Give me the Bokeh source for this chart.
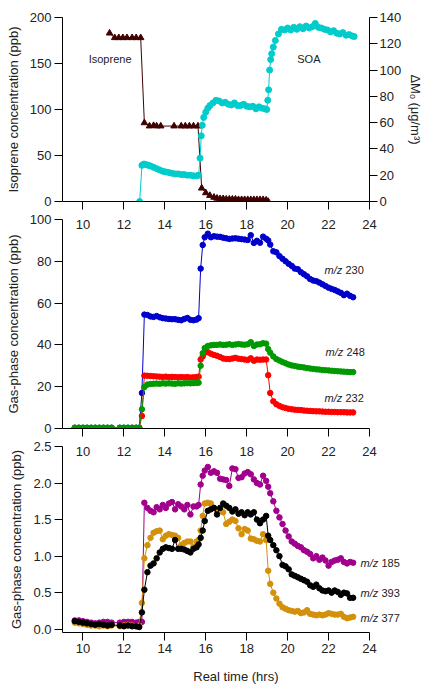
from bokeh.plotting import figure
from bokeh.models import Range1d, LinearAxis, Label, FixedTicker, NumeralTickFormatter
from bokeh.layouts import column
from bokeh.embed import file_html
from bokeh.resources import INLINE

# ---------------- data ----------------
X_TICKS = [10, 12, 14, 16, 18, 20, 22, 24]

# top panel: isoprene (left axis, ppb)
ISO_T = [11.3, 11.55, 11.75, 11.95, 12.15, 12.4, 12.6, 12.82,
         13.0, 13.25, 13.45, 13.6, 13.8,
         14.45, 14.8, 15.0, 15.2, 15.4, 15.62,
         15.8, 16.0, 16.2, 16.4,
         16.55, 16.7, 16.85, 17.0, 17.15, 17.3, 17.45, 17.6, 17.75, 17.9, 18.05, 18.2, 18.35, 18.5, 18.65, 18.8, 18.95,
         19.05]
ISO = [183, 178, 178, 178, 178, 178, 178, 178,
       85.5, 82, 82.5, 82, 82,
       82, 82, 82, 82, 82, 82,
       14.5, 9.4, 6.5, 4.5,
       3.5, 3, 3, 2.5, 2.5, 2.5, 2.5, 2, 2, 2, 2, 2, 2, 2, 2, 2, 1.5,
       0]

# top panel: SOA (right axis, ug/m3)
SOA_T = [12.77, 12.88, 12.98, 13.1, 13.2, 13.3, 13.45, 13.6, 13.75, 13.9, 14.05, 14.2, 14.35, 14.5, 14.65,
         14.8, 14.95, 15.1, 15.25, 15.4, 15.55, 15.65, 15.72, 15.78, 15.83, 15.9, 16.0, 16.1, 16.2, 16.35,
         16.5, 16.65, 16.8, 16.95, 17.1, 17.25, 17.4, 17.55, 17.7, 17.85, 18.0, 18.15, 18.3, 18.45, 18.6,
         18.75, 18.9, 18.98, 19.03, 19.07, 19.12, 19.17, 19.22, 19.3, 19.4, 19.55, 19.7, 19.85, 20.0, 20.15,
         20.3, 20.45, 20.6, 20.75, 20.9, 21.05, 21.2, 21.35, 21.5, 21.65, 21.8, 21.95, 22.1, 22.25, 22.4,
         22.55, 22.7, 22.85, 23.0, 23.15, 23.25]
SOA = [0, 27.5, 28.5, 28, 27.5, 27, 26, 25, 24, 23, 22.5, 22, 21.5, 21, 21,
       20.5, 20.5, 20, 20, 19.5, 19.5, 20, 33, 50, 58, 64, 68, 71, 73, 75,
       77, 76.5, 75, 75.5, 74, 73.5, 75, 73, 73, 74, 72.5, 72, 72.5, 70.5, 72,
       71, 70.5, 70, 77, 85, 100, 108, 112.5, 117.5, 122.5, 127.5, 131, 130.5, 132, 130.5,
       132.5, 131, 133, 131.5, 133.5, 132, 133, 135.5, 132.5, 132, 131, 130.5, 129, 130, 128,
       127.5, 128.5, 126.5, 127, 126, 125.5]

# middle and bottom panels share the sampling times
T = [9.6, 9.8, 10.0, 10.2, 10.4, 10.6, 10.8, 11.0, 11.2, 11.4, 11.8, 12.0, 12.2, 12.4, 12.6, 12.75,
     12.88, 13.0,
     13.15, 13.3, 13.45, 13.6, 13.75, 13.9, 14.05, 14.2, 14.35, 14.5, 14.65, 14.8, 14.95, 15.1, 15.25, 15.4, 15.55, 15.65,
     15.75, 15.85, 15.95, 16.1, 16.25, 16.4, 16.55, 16.7, 16.85, 17.0, 17.15, 17.3, 17.45, 17.6, 17.75, 17.9, 18.05,
     18.2, 18.35, 18.5, 18.65, 18.8, 18.95,
     19.05, 19.15, 19.3, 19.45, 19.6, 19.75, 19.9, 20.05, 20.2, 20.35, 20.5, 20.65, 20.8, 20.95, 21.1, 21.25, 21.4,
     21.55, 21.7, 21.85, 22.0, 22.15, 22.3, 22.45, 22.6, 22.75, 22.9, 23.05, 23.2]

MZ230 = [0.3] * 16 + [17, 54.5,
         54.3, 53.6, 53.4, 53.8, 53.2, 52.8, 52.6, 52.4, 52.3, 52.3, 52.0, 51.8, 52.4, 52.9, 52.0, 51.8, 52.1, 52.8,
         76.5, 87.8, 91.5, 93.2, 91.5, 92.0, 91.8, 91.7, 91.3, 91.0, 90.7, 90.9, 91.0, 90.8, 90.6, 90.4, 90.2,
         92.5, 88.8, 89.8, 88.9, 91.8, 90.8,
         90.0, 88.0, 84.8, 84.3, 82.5, 81.2, 80.0, 78.8, 77.8, 76.5, 76.2, 74.8, 73.8, 72.8, 71.5, 70.8, 70.5,
         69.8, 69.0, 68.2, 67.4, 66.8, 66.3, 65.6, 64.9, 63.8, 64.5, 63.5, 62.8]
MZ232 = [0.2] * 16 + [6, 25.3,
         25.2, 25.1, 25.0, 24.9, 24.8, 24.7, 24.8, 24.6, 24.7, 24.6, 24.5, 24.6, 24.5, 24.6, 24.4, 24.5, 24.6, 24.8,
         33.0, 34.5, 36.3, 36.5, 35.8, 35.2, 34.8, 34.2, 33.5, 33.3, 33.2, 33.5, 33.8, 33.4, 33.2, 33.0, 32.8,
         33.6, 32.4, 33.0, 32.9, 33.0, 33.0,
         25.5, 17.0, 13.0, 11.6, 10.8, 10.2, 9.8, 9.4, 9.2, 9.0, 8.9, 8.8, 8.6, 8.5, 8.4, 8.3, 8.2,
         8.2, 8.1, 8.0, 8.0, 7.9, 7.9, 7.8, 7.8, 7.8, 7.7, 7.7, 7.7]
MZ248 = [0.4] * 16 + [9.2, 19.8,
         21.0, 21.3, 21.4, 21.5, 21.4, 21.6, 21.5, 21.6, 21.5, 21.4, 21.6, 21.5, 21.6, 21.7, 21.6, 21.7, 21.8, 21.9,
         30.0, 36.0, 38.5, 39.5, 39.8, 40.0, 40.0, 40.2, 40.0, 40.1, 40.3, 40.0, 40.2, 40.4, 40.2, 40.1, 40.3,
         41.3, 39.5, 40.2, 40.3, 40.8, 40.6,
         38.0, 36.3, 34.5, 33.2, 32.5, 31.8, 31.2, 30.6, 30.2, 29.9, 29.6, 29.4, 29.2, 28.9, 28.7, 28.5, 28.3,
         28.2, 28.0, 27.9, 27.8, 27.6, 27.5, 27.4, 27.3, 27.2, 27.1, 27.0, 27.0]

MZ185 = [0.12, 0.12, 0.11, 0.1, 0.09, 0.08, 0.09, 0.1, 0.1, 0.09, 0.09, 0.1, 0.1, 0.1, 0.09, 0.1,
         0.1, 1.73,
         1.66, 1.62, 1.6, 1.67, 1.64, 1.7, 1.66, 1.72, 1.74, 1.64, 1.71, 1.68, 1.64, 1.70, 1.57, 1.68, 1.68, 1.70,
         1.98, 2.1, 2.17, 2.22, 2.14, 2.16, 2.14, 2.06, 2.05, 2.04, 1.96, 2.2, 2.19, 2.07, 2.08, 2.13, 2.15,
         2.12, 2.05, 2.0, 1.98, 2.1, 2.03,
         1.95, 1.86, 1.75, 1.62, 1.53, 1.44, 1.35, 1.27, 1.2, 1.17, 1.14, 1.12, 1.08, 1.06, 1.03, 0.97, 1.0,
         0.95, 0.98, 0.94, 0.87, 0.92, 0.94, 0.95, 0.97, 0.92, 0.9, 0.92, 0.91]
MZ393 = [0.11, 0.1, 0.09, 0.08, 0.07, 0.06, 0.07, 0.06, 0.05, 0.06, 0.05, 0.04, 0.05, 0.04, 0.04, 0.03,
         0.23, 0.54,
         0.78, 0.87, 0.9, 0.97, 1.05, 1.1, 1.12, 1.11, 1.1, 1.22, 1.1, 1.1, 1.09, 1.07, 1.05, 1.1, 1.12, 1.16,
         1.25, 1.35, 1.48, 1.62, 1.64, 1.66, 1.57, 1.66, 1.72, 1.69, 1.66, 1.61, 1.64, 1.58, 1.6, 1.56, 1.6,
         1.57, 1.6, 1.5, 1.45, 1.5, 1.55,
         1.28, 1.22, 1.15, 1.08, 1.0, 0.88, 0.86, 0.82, 0.75, 0.73, 0.71, 0.69, 0.67, 0.65, 0.6, 0.58, 0.61,
         0.56, 0.53, 0.52, 0.53, 0.5, 0.53, 0.51, 0.47, 0.5, 0.49, 0.43, 0.43]
MZ377 = [0.09, 0.08, 0.07, 0.06, 0.05, 0.05, 0.04, 0.05, 0.04, 0.05, 0.04, 0.05, 0.06, 0.05, 0.04, 0.05,
         0.36, 0.97,
         1.15, 1.25, 1.32, 1.34, 1.35, 1.23, 1.28, 1.3, 1.29, 1.28, 1.25, 1.15, 1.18, 1.2, 1.2, 1.13, 1.2, 1.22,
         1.35, 1.55, 1.72, 1.73, 1.72, 1.66, 1.62, 1.62, 1.6, 1.44, 1.47, 1.5, 1.48, 1.38, 1.3, 1.37, 1.35,
         1.24, 1.23, 1.21, 1.2, 1.3, 1.22,
         0.8, 0.62, 0.5, 0.42, 0.35, 0.3, 0.28, 0.26, 0.25, 0.24, 0.25, 0.22, 0.23, 0.26, 0.21, 0.2, 0.19,
         0.2, 0.19, 0.2, 0.22, 0.21, 0.2, 0.2, 0.21, 0.17, 0.15, 0.16, 0.17]

# series-label positions on the bottom panel (ppb level of each label)
BOT_LABEL_Y = [0.9, 0.5, 0.16]
BOT_LABEL_NUM = ["185", "393", "377"]

# ---------------- style ----------------
FONT = "Liberation Sans"
TXT = "#222222"
C_ISO = "#400000"
C_SOA = "#00cccc"
C_230 = "#0000cc"
C_232 = "#ff0000"
C_248 = "#009900"
C_185 = "#a0008c"
C_393 = "#000000"
C_377 = "#d4900a"

W = 426
LEFT = 62
RIGHT = 52


def make_fig(h, yr, top, bottom):
    p = figure(width=W, height=h, x_range=Range1d(9, 24), y_range=yr,
               output_backend="svg", toolbar_location=None)
    p.min_border_left = LEFT
    p.min_border_right = RIGHT
    p.min_border_top = top
    p.min_border_bottom = bottom
    p.outline_line_color = None
    p.xgrid.visible = False
    p.ygrid.visible = False
    p.background_fill_color = None
    p.border_fill_color = None
    return p


def style_axis(ax, ticks, standoff=3, label_standoff=6):
    ax.ticker = FixedTicker(ticks=ticks)
    ax.axis_line_color = "black"
    ax.axis_line_width = 1
    ax.major_tick_line_color = "black"
    ax.major_tick_out = 8
    ax.major_tick_in = 0
    ax.minor_tick_out = 0
    ax.minor_tick_in = 0
    ax.major_label_text_font = FONT
    ax.major_label_text_font_size = "13px"
    ax.major_label_text_color = TXT
    ax.major_label_standoff = standoff
    ax.axis_label_text_font = FONT
    ax.axis_label_text_font_size = "13px"
    ax.axis_label_text_font_style = "normal"
    ax.axis_label_text_color = TXT
    ax.axis_label_standoff = label_standoff


def add_text(p, x, y, text, size="11px", style="normal", x_offset=0):
    p.add_layout(Label(x=x, y=y, text=text, text_font=FONT, text_font_size=size,
                       text_font_style=style, text_color=TXT, text_baseline="middle",
                       text_align="left", x_offset=x_offset))


def mz_label(p, x, y, num):
    add_text(p, x, y, "m/z", style="italic")
    add_text(p, x, y, num, x_offset=21)


def label_axis(labels, style, standoff):
    ax = LinearAxis(ticker=FixedTicker(ticks=BOT_LABEL_Y),
                    major_label_overrides={v: t for v, t in zip(BOT_LABEL_Y, labels)})
    ax.axis_line_color = None
    ax.major_tick_line_color = None
    ax.major_tick_out = 0
    ax.major_tick_in = 0
    ax.minor_tick_out = 0
    ax.minor_tick_in = 0
    ax.major_label_standoff = standoff
    ax.major_label_text_font = FONT
    ax.major_label_text_font_size = "11px"
    ax.major_label_text_font_style = style
    ax.major_label_text_color = TXT
    return ax


# ---------------- top panel ----------------
p1 = make_fig(234, Range1d(0, 200), 17, 33)
p1.extra_y_ranges = {"soa": Range1d(0, 140)}
style_axis(p1.xaxis[0], X_TICKS, standoff=10)
style_axis(p1.yaxis[0], [0, 50, 100, 150, 200])
p1.yaxis[0].axis_label = "Isoprene concentration (ppb)"
ax_r = LinearAxis(y_range_name="soa", axis_label="ΔMₒ (μg/m³)")
style_axis(ax_r, [0, 20, 40, 60, 80, 100, 120, 140], standoff=2, label_standoff=4)
p1.add_layout(ax_r, "right")

p1.line(ISO_T, ISO, line_color=C_ISO, line_width=1)
p1.scatter(ISO_T, ISO, marker="triangle", size=6.5, color=C_ISO)
p1.line(SOA_T, SOA, line_color=C_SOA, line_width=1, y_range_name="soa")
p1.scatter(SOA_T, SOA, marker="circle", size=6, color=C_SOA, y_range_name="soa")
add_text(p1, 10.28, 155, "Isoprene")
add_text(p1, 20.47, 155, "SOA")

# ---------------- middle panel ----------------
p2 = make_fig(250, Range1d(0, 100), 8, 33)
p2.margin = (-23, 0, 0, 0)
style_axis(p2.xaxis[0], X_TICKS, standoff=10)
style_axis(p2.yaxis[0], [0, 20, 40, 60, 80, 100])
p2.yaxis[0].axis_label = "Gas-phase concentration (ppb)"
for ys, c in [(MZ230, C_230), (MZ232, C_232), (MZ248, C_248)]:
    p2.line(T, ys, line_color=c, line_width=1)
    p2.scatter(T, ys, marker="circle", size=5.5, color=c)
mz_label(p2, 21.8, 76, "230")
mz_label(p2, 21.85, 36.8, "248")
mz_label(p2, 21.8, 14.7, "232")

# ---------------- bottom panel ----------------
p3 = make_fig(248, Range1d(-0.045, 2.5), 8, 53)
p3.margin = (-23, 0, 0, 0)
style_axis(p3.xaxis[0], X_TICKS, label_standoff=13)
p3.xaxis[0].axis_label = "\u00a0" * 11 + "Real time (hrs)"
style_axis(p3.yaxis[0], [0, 0.5, 1.0, 1.5, 2.0, 2.5])
p3.yaxis[0].formatter = NumeralTickFormatter(format="0.0")
p3.yaxis[0].axis_label = "Gas-phase concentration (ppb)"
for ys, c in [(MZ185, C_185), (MZ377, C_377), (MZ393, C_393)]:
    p3.line(T, ys, line_color=c, line_width=1)
    p3.scatter(T, ys, marker="circle", size=5.5, color=c)
# series names sit just past the right end of the traces (outside the frame)
p3.add_layout(label_axis(["m/z"] * 3, "italic", -9), "right")
p3.add_layout(label_axis(BOT_LABEL_NUM, "normal", 0), "right")

layout = column(p1, p2, p3)
open("out.html", "w").write(file_html(layout, INLINE))
